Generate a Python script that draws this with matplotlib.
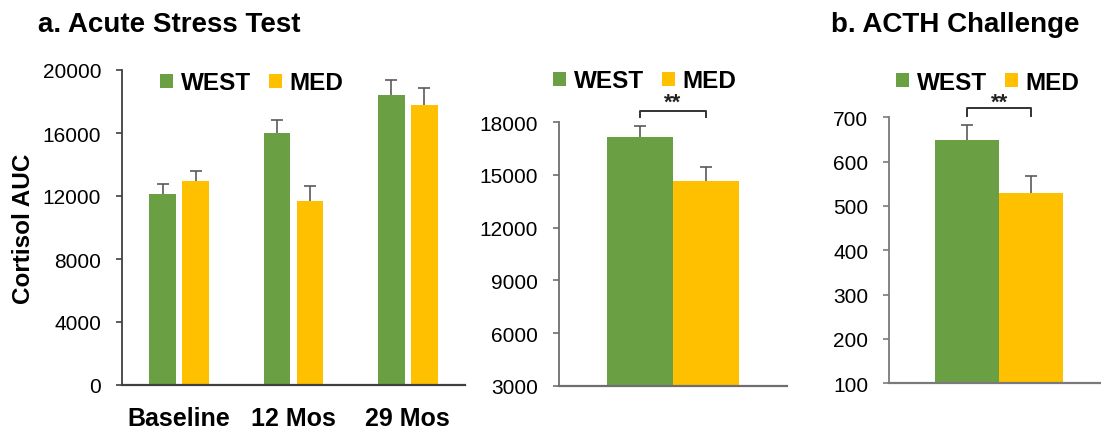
import numpy as np
import matplotlib
matplotlib.use("Agg")
import matplotlib.pyplot as plt
from matplotlib.patches import Patch

plt.rcParams['font.family'] = ['Liberation Sans', 'DejaVu Sans']

# data
groups = ["WEST", "MED"]
timepoints = ["Baseline", "12 Mos", "29 Mos"]
stress_west = [12150, 15980, 18400]
stress_west_err = [620, 850, 950]
stress_med = [12930, 11660, 17780]
stress_med_err = [650, 950, 1050]

stress_overall = [17150, 14670]
stress_overall_err = [620, 770]

acth_overall = [648, 530]
acth_overall_err = [34, 38]

GREEN = "#6a9f43"
GOLD = "#ffc000"
ERRC = "#5a5a5a"

W, H = 1101, 431
fig = plt.figure(figsize=(W / 100, H / 100), dpi=100)


def px_axes(left, right, bottom, top):
    return fig.add_axes([left / W, 1 - bottom / H, (right - left) / W, (bottom - top) / H])


def style_axis(ax, color):
    for s in ("top", "right"):
        ax.spines[s].set_visible(False)
    ax.spines["left"].set_color(color)
    ax.spines["bottom"].set_color(color)
    ax.spines["left"].set_linewidth(1.3)
    ax.spines["bottom"].set_linewidth(1.6)
    ax.tick_params(axis="y", direction="out", length=4, width=1.2, color=color,
                   labelsize=15, pad=11)
    ax.tick_params(axis="x", length=0, labelsize=18, pad=15)


def plus_errors(ax, xs, ys, errs):
    # only the upper half of each error bar, capped at the top
    eb = ax.errorbar(xs, ys, yerr=[np.zeros(len(ys)), errs], fmt="none",
                     ecolor=ERRC, elinewidth=1.2, capsize=4.5, capthick=1.2)
    eb[1][0].set_visible(False)


def add_legend(ax, x_px, y_px):
    handles = [Patch(facecolor=GREEN), Patch(facecolor=GOLD)]
    leg = ax.legend(handles, groups, ncol=2, frameon=False, loc="center left",
                    bbox_to_anchor=(x_px / W, 1 - y_px / H), bbox_transform=fig.transFigure,
                    prop={"size": 17.5, "weight": "bold"}, handlelength=0.55,
                    handleheight=0.55, handletextpad=0.3, columnspacing=0.75,
                    borderpad=0, borderaxespad=0)
    return leg


def bracket(ax, x0, x1, y_top, y_leg, y_star):
    ax.plot([x0, x0, x1, x1], [y_leg, y_top, y_top, y_leg], color="#333333",
            lw=1.4, clip_on=False)
    ax.text((x0 + x1) / 2, y_star, "**", ha="center", va="center",
            fontsize=16, fontweight="bold", color="#222222")


# a. acute stress test by time point
ax1 = px_axes(122, 465, 386, 71)
x = np.arange(len(timepoints))
bw, off = 0.232, 0.144
ax1.bar(x - off, stress_west, bw, color=GREEN)
ax1.bar(x + off, stress_med, bw, color=GOLD)
plus_errors(ax1, x - off, stress_west, stress_west_err)
plus_errors(ax1, x + off, stress_med, stress_med_err)
ax1.set_xlim(-0.5, 2.5)
ax1.set_ylim(0, 20000)
ax1.set_yticks(np.arange(0, 20001, 4000))
ax1.set_xticks(x)
ax1.set_xticklabels(timepoints, fontweight="bold")
style_axis(ax1, "#404040")
add_legend(ax1, 160, 84)

# pooled stress response
ax2 = px_axes(559, 787, 386.7, 123.3)
bw2 = 0.29
pos2 = [-bw2 / 2, bw2 / 2]
ax2.bar(pos2, stress_overall, bw2, color=[GREEN, GOLD])
plus_errors(ax2, pos2, stress_overall, stress_overall_err)
ax2.set_xlim(-0.5, 0.5)
ax2.set_ylim(3000, 18000)
ax2.set_yticks(np.arange(3000, 18001, 3000))
ax2.set_xticks([])
style_axis(ax2, "#6e6e6e")
add_legend(ax2, 553, 82)
bracket(ax2, pos2[0], pos2[1], 18640, 18280, 19150)

# b. ACTH challenge
ax3 = px_axes(889.3, 1109, 384.3, 118.3)
bw3 = 0.291
pos3 = [-bw3 / 2, bw3 / 2]
ax3.bar(pos3, acth_overall, bw3, color=[GREEN, GOLD])
plus_errors(ax3, pos3, acth_overall, acth_overall_err)
ax3.set_xlim(-0.5, 0.5)
ax3.set_ylim(100, 700)
ax3.set_yticks(np.arange(100, 701, 100))
ax3.set_xticks([])
style_axis(ax3, "#7a7a7a")
add_legend(ax3, 896, 83)
bracket(ax3, pos3[0], pos3[1], 720, 704, 734)

fig.text(24 / W, 1 - 229 / H, "Cortisol AUC", rotation=90, ha="center", va="center",
         fontsize=17.5, fontweight="bold")
fig.text(38 / W, 1 - 25 / H, "a. Acute Stress Test", ha="left", va="center",
         fontsize=20, fontweight="bold")
fig.text(831 / W, 1 - 25 / H, "b. ACTH Challenge", ha="left", va="center",
         fontsize=20, fontweight="bold")

fig.savefig("out.png", dpi=100)
